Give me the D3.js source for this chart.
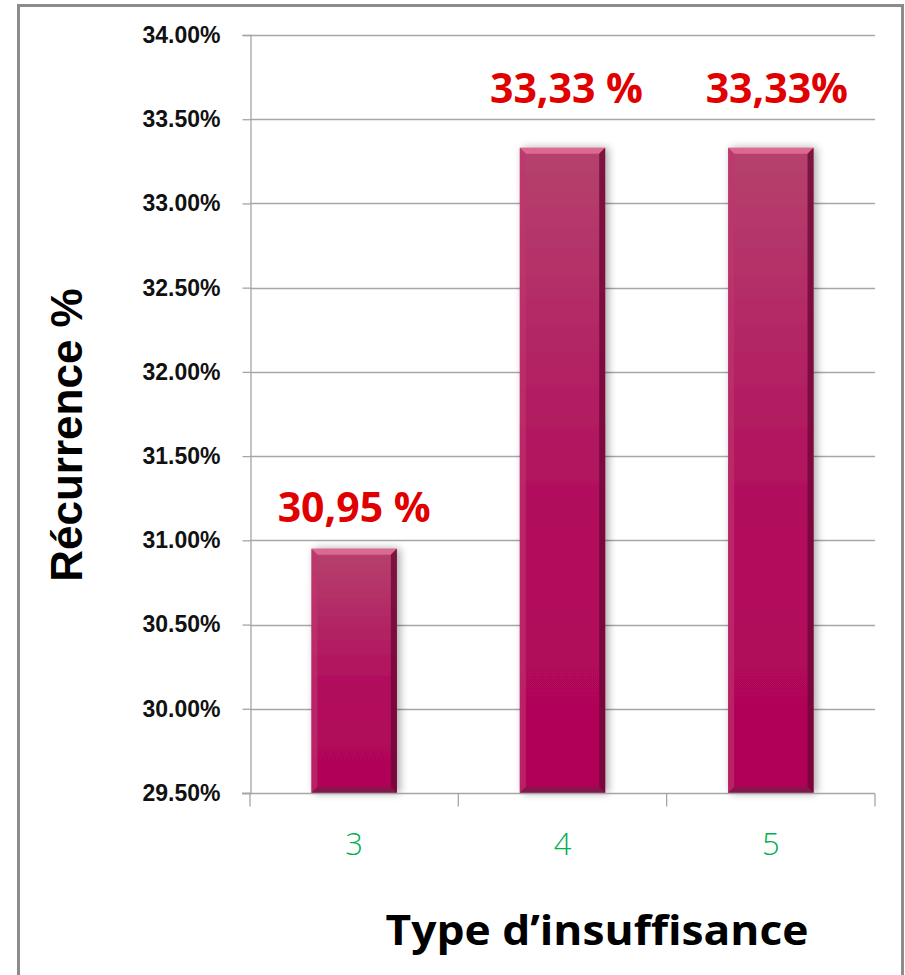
<!DOCTYPE html>
<html>
<head>
<meta charset="utf-8">
<script src="https://cdn.jsdelivr.net/npm/d3@7"></script>
<style>
  html, body { margin: 0; padding: 0; background: #fff; }
  svg { display: block; }
</style>
</head>
<body>
<script>
// Data
const categories = ["3", "4", "5"];
const values = [30.95, 33.33, 33.33];
const valueLabels = ["30,95 %", "33,33 %", "33,33%"];
const yTicks = [29.5, 30, 30.5, 31, 31.5, 32, 32.5, 33, 33.5, 34];

// Label placement (gap above each bar, horizontal nudge)
const labelGap = [27, 45, 45];
const labelDx = [0, 4, 6];

const W = 905, H = 975;
const m = { left: 250, right: 30, top: 35, bottom: 182 };
const plotW = 875 - m.left;

const svg = d3.select("body").append("svg").attr("width", W).attr("height", H);

const defs = svg.append("defs");
const grad = defs.append("linearGradient").attr("id", "barGrad")
  .attr("x1", 0).attr("y1", 0).attr("x2", 0).attr("y2", 1);
grad.append("stop").attr("offset", "0%").attr("stop-color", "#b5426d");
grad.append("stop").attr("offset", "60%").attr("stop-color", "#b10a5c");
grad.append("stop").attr("offset", "100%").attr("stop-color", "#b00458");

const shadow = defs.append("filter").attr("id", "shadow")
  .attr("x", "-30%").attr("y", "-10%").attr("width", "160%").attr("height", "120%");
shadow.append("feGaussianBlur").attr("in", "SourceAlpha").attr("stdDeviation", 4);
shadow.append("feOffset").attr("dx", 3).attr("dy", 0).attr("result", "ob");
shadow.append("feComponentTransfer").append("feFuncA").attr("type", "linear").attr("slope", 0.35);
const merge = shadow.append("feMerge");
merge.append("feMergeNode");
merge.append("feMergeNode").attr("in", "SourceGraphic");

// Outer frame
svg.append("rect").attr("x", 18.5).attr("y", 5.5).attr("width", 884).attr("height", 980)
  .attr("fill", "none").attr("stroke", "#8c8c8c").attr("stroke-width", 3);

const x = d3.scaleBand().domain(categories).range([m.left, m.left + plotW]).paddingInner(0.59).paddingOuter(0.295);
const xOuter = d3.scaleBand().domain(categories).range([m.left, m.left + plotW]);
const y = d3.scaleLinear().domain([29.5, 34]).range([793, 35]);

// Gridlines
svg.append("g").selectAll("line").data(yTicks.filter(d => d > 29.5)).join("line")
  .attr("x1", m.left).attr("x2", m.left + plotW)
  .attr("y1", d => Math.round(y(d)) + 0.5).attr("y2", d => Math.round(y(d)) + 0.5)
  .attr("stroke", "#a6a6a6").attr("stroke-width", 1.3);

// Y axis
const yAxis = svg.append("g").attr("transform", `translate(${m.left + 0.5},0)`)
  .call(d3.axisLeft(y).tickValues(yTicks).tickSize(8).tickPadding(22)
    .tickFormat(d => d3.format(".2f")(d) + "%"));
yAxis.select(".domain").attr("stroke", "#a6a6a6").attr("stroke-width", 1.3);
yAxis.selectAll(".tick line").attr("stroke", "#a6a6a6").attr("stroke-width", 1.3).attr("x1", -8).attr("x2", 0);
yAxis.selectAll(".tick text").attr("fill", "#111")
  .style("font-family", "Liberation Sans, Arial, sans-serif")
  .style("font-weight", "bold").style("font-size", "23px");

// Bars
const bars = svg.append("g").selectAll("g").data(values).join("g");
bars.append("rect")
  .attr("x", (d, i) => x(categories[i])).attr("y", d => y(d))
  .attr("width", x.bandwidth()).attr("height", d => y(29.5) - y(d))
  .attr("fill", "url(#barGrad)").attr("filter", "url(#shadow)");
// bevel: lighter top edge
const bev = 6;
bars.append("path")
  .attr("d", (d, i) => {
    const x0 = x(categories[i]), x1 = x0 + x.bandwidth(), y0 = y(d);
    return `M${x0},${y0}L${x1},${y0}L${x1 - bev},${y0 + bev}L${x0 + bev},${y0 + bev}Z`;
  }).attr("fill", "#dc6990");
// bevel: darker right edge
bars.append("path")
  .attr("d", (d, i) => {
    const x0 = x(categories[i]), x1 = x0 + x.bandwidth(), y0 = y(d), yb = y(29.5);
    return `M${x1},${y0}L${x1},${yb}L${x1 - bev},${yb - bev}L${x1 - bev},${y0 + bev}Z`;
  }).attr("fill", "#6e0736").attr("opacity", 0.8);
// bevel: slightly lighter left edge
bars.append("path")
  .attr("d", (d, i) => {
    const x0 = x(categories[i]), y0 = y(d), yb = y(29.5);
    return `M${x0},${y0}L${x0 + bev},${y0 + bev}L${x0 + bev},${yb - bev}L${x0},${yb}Z`;
  }).attr("fill", "#c0356e").attr("opacity", 0.6);
// bevel: bottom edge
bars.append("path")
  .attr("d", (d, i) => {
    const x0 = x(categories[i]), x1 = x0 + x.bandwidth(), yb = y(29.5);
    return `M${x0},${yb}L${x1},${yb}L${x1 - bev},${yb - bev}L${x0 + bev},${yb - bev}Z`;
  }).attr("fill", "#7a1b48").attr("opacity", 0.8);

// X axis
const xAxisG = svg.append("g").attr("transform", `translate(0,${Math.round(y(29.5)) + 0.5})`);
xAxisG.append("line").attr("x1", m.left - 8).attr("x2", m.left + plotW)
  .attr("stroke", "#a6a6a6").attr("stroke-width", 1.3);
const xt = [m.left, ...categories.map(c => xOuter(c) + xOuter.bandwidth())];
xAxisG.selectAll("line.t").data(xt).join("line").attr("class", "t")
  .attr("x1", d => d).attr("x2", d => d).attr("y1", 0).attr("y2", 13)
  .attr("stroke", "#a6a6a6").attr("stroke-width", 1.3);
xAxisG.selectAll("text").data(categories).join("text")
  .attr("x", d => xOuter(d) + xOuter.bandwidth() / 2).attr("y", 61)
  .attr("text-anchor", "middle").attr("fill", "#00b050")
  .style("font-family", "Open Sans, sans-serif").style("font-weight", "300").style("font-size", "31px")
  .text(d => d);

// Value labels
svg.append("g").selectAll("text").data(values).join("text")
  .attr("x", (d, i) => xOuter(categories[i]) + xOuter.bandwidth() / 2 + labelDx[i])
  .attr("y", (d, i) => y(d) - labelGap[i])
  .attr("text-anchor", "middle").attr("fill", "#e00000")
  .style("font-family", "Open Sans, sans-serif").style("font-weight", "bold").style("font-size", "41px")
  .text((d, i) => valueLabels[i]);

// Axis titles
svg.append("text")
  .attr("transform", "translate(82,435) rotate(-90)")
  .attr("text-anchor", "middle").attr("fill", "#000")
  .style("font-family", "Liberation Sans, Arial, sans-serif").style("font-weight", "bold").style("font-size", "44px")
  .text("Récurrence %");
svg.append("text")
  .attr("x", 597).attr("y", 945)
  .attr("text-anchor", "middle").attr("fill", "#000")
  .style("font-family", "Open Sans, sans-serif").style("font-weight", "bold").style("font-size", "41px")
  .attr("textLength", 423).attr("lengthAdjust", "spacingAndGlyphs")
  .text("Type d’insuffisance");
</script>
</body>
</html>
